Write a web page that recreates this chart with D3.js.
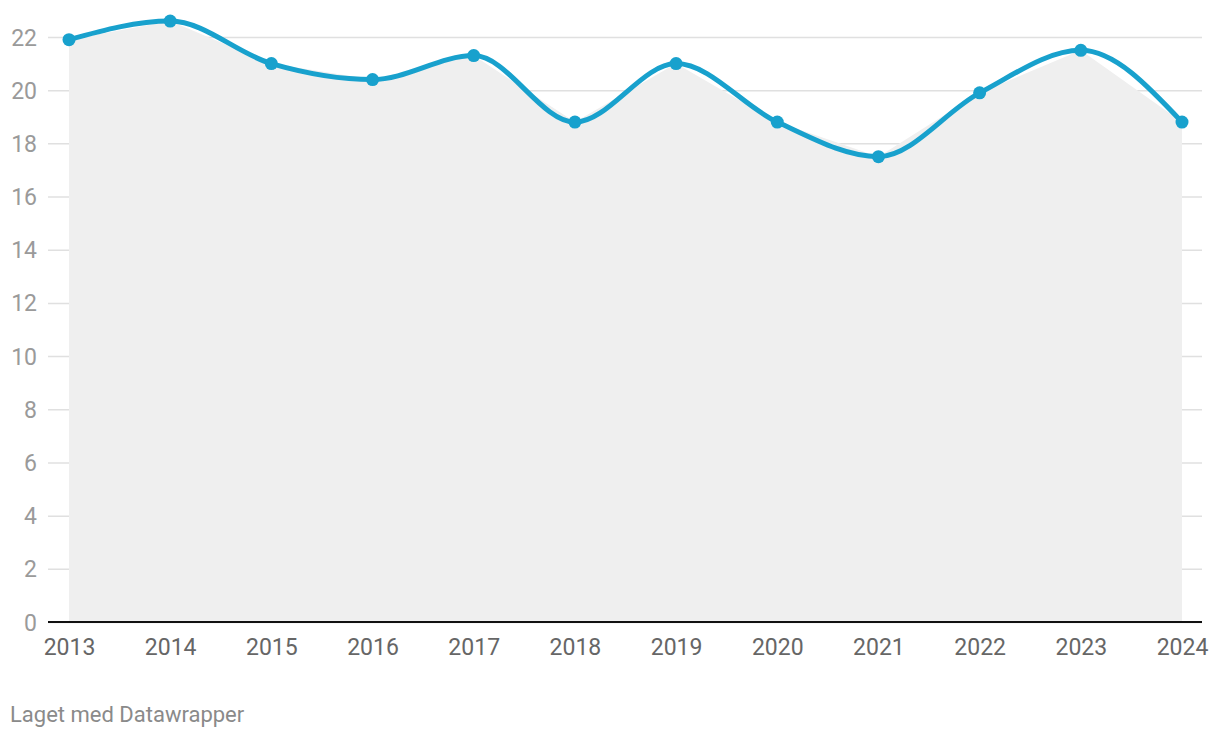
<!DOCTYPE html>
<html><head><meta charset="utf-8">
<script src="https://cdn.jsdelivr.net/npm/d3@7"></script>
<style>
html,body{margin:0;padding:0;background:#fff;}
svg{display:block;font-family:Roboto,sans-serif;}
</style></head>
<body>
<svg id="c" width="1220" height="738"></svg>
<script>
const years = [2013,2014,2015,2016,2017,2018,2019,2020,2021,2022,2023,2024];
const values = [21.9,22.6,21.0,20.4,21.3,18.8,21.0,18.8,17.5,19.9,21.5,18.8];
const yTicks = [0,2,4,6,8,10,12,14,16,18,20,22];
const footer = "Laget med Datawrapper";

const svg = d3.select("#c");
const x = d3.scaleLinear().domain([2013,2024]).range([69,1182]);
const y = d3.scaleLinear().domain([0,22]).range([622,37]);

const yAxis = d3.axisLeft(y).tickValues(yTicks).tickSize(-(1202-48)).tickPadding(12);
const gy = svg.append("g").attr("transform","translate(48,0)").call(yAxis);
gy.select(".domain").remove();
gy.selectAll(".tick line").attr("stroke","#e0e0e0").attr("stroke-width",1.5);
gy.selectAll(".tick text").attr("fill","#9a9a9a").style("font-size","23px").style("font-family","Roboto").attr("x",-11).attr("dy","0.35em");

const area = d3.area().x((d,i)=>x(years[i])).y0(y(0)).y1(d=>y(d)).curve(d3.curveLinear);
svg.append("path").datum(values).attr("d",area).attr("fill","#efefef");

svg.append("line").attr("x1",48).attr("x2",1202).attr("y1",y(0)).attr("y2",y(0)).attr("stroke","#111").attr("stroke-width",2);

const xAxis = d3.axisBottom(x).tickValues(years).tickFormat(d3.format("d")).tickSize(0).tickPadding(17);
const gx = svg.append("g").attr("transform",`translate(0,${y(0)})`).call(xAxis);
gx.select(".domain").remove();
gx.selectAll(".tick text").attr("fill","#666").style("font-size","23px").style("font-family","Roboto");

const line = d3.line().x((d,i)=>x(years[i])).y(d=>y(d)).curve(d3.curveMonotoneX);
svg.append("path").datum(values).attr("d",line).attr("fill","none").attr("stroke","#18a1cd").attr("stroke-width",5).attr("stroke-linejoin","round").attr("stroke-linecap","round");

svg.append("g").selectAll("circle").data(values).join("circle")
  .attr("cx",(d,i)=>x(years[i])).attr("cy",d=>y(d)).attr("r",6.5).attr("fill","#18a1cd");

svg.append("text").attr("x",10).attr("y",722).text(footer).attr("fill","#8a8a8a").style("font-size","22px").style("font-family","Roboto");
</script>
</body></html>
